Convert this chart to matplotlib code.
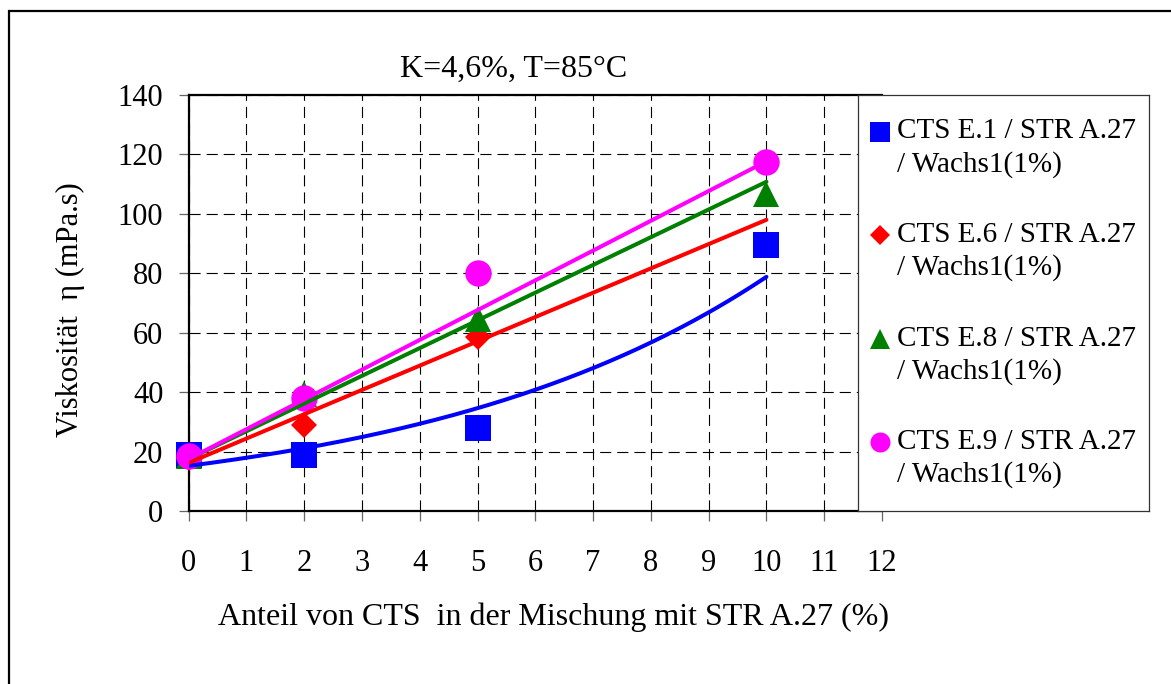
import numpy as np
import matplotlib
matplotlib.use("Agg")
import matplotlib.pyplot as plt
from matplotlib.patches import Rectangle

plt.rcParams['font.family'] = ['Liberation Serif', 'DejaVu Serif']

# ---------------- data ----------------
x_e1 = [0, 2, 5, 10]
y_e1 = [18.7, 18.8, 27.8, 89.5]
x_e6 = [0, 2, 5]
y_e6 = [18.0, 29.1, 58.6]
x_e8 = [0, 2, 5, 10]
y_e8 = [18.5, 39.4, 64.6, 106.7]
x_e9 = [0, 2, 5, 10]
y_e9 = [18.5, 38.1, 80.2, 117.6]

labels = ["CTS E.1 / STR A.27", "CTS E.6 / STR A.27",
          "CTS E.8 / STR A.27", "CTS E.9 / STR A.27"]
label_second = "/ Wachs1(1%)"
colors = ["#0000FF", "#FF0000", "#008000", "#FF00FF"]

# trendlines (values at x = 0 and x = 10)
trend_x = [0, 10]
trend_e1 = [15.2, 78.8]    # exponential trend
trend_e6 = [16.2, 98.0]    # linear trends
trend_e8 = [17.5, 110.8]
trend_e9 = [17.5, 117.7]

x_ticks = list(range(0, 13))
y_ticks = list(range(0, 141, 20))

title = "K=4,6%, T=85°C"
xlabel = "Anteil von CTS  in der Mischung mit STR A.27 (%)"
ylabel = "Viskosität  η (mPa.s)"

# ---------------- figure ----------------
W, H = 1171, 684
fig = plt.figure(figsize=(W / 100, H / 100), dpi=100)

def fx(px):
    return px / W

def fy(py):
    return 1 - py / H

ax_l, ax_r, ax_t, ax_b = 188.6, 882.0, 95.0, 511.0
ax = fig.add_axes([fx(ax_l), fy(ax_b), fx(ax_r - ax_l), (ax_b - ax_t) / H])
ax.set_xlim(0, 12)
ax.set_ylim(0, 140)
ax.set_xticks(x_ticks)
ax.set_yticks(y_ticks)
ax.set_axisbelow(True)
ax.grid(True, color='black', lw=0.8, ls=(0, (10, 5.4)))
for s in ['left', 'bottom', 'top']:
    ax.spines[s].set_linewidth(1.6)
    ax.spines[s].set_color('black')
ax.spines['right'].set_visible(False)
ax.tick_params(axis='both', direction='out', length=7.2, width=0.9,
               color='#666666', labelsize=22)
ax.tick_params(axis='x', pad=20)
ax.tick_params(axis='y', pad=11)

marker_specs = [('s', 19.4), ('D', 12.9), ('^', 19.4), ('o', 19.0)]
series = [(x_e1, y_e1), (x_e6, y_e6), (x_e8, y_e8), (x_e9, y_e9)]
for (xs, ys), (m, ms), c in zip(series, marker_specs, colors):
    ax.plot(xs, ys, ls='none', marker=m, ms=ms, color=c, mew=0, zorder=3,
            clip_on=False)

# trendlines
xc = np.linspace(trend_x[0], trend_x[1], 200)
yc = trend_e1[0] * (trend_e1[1] / trend_e1[0]) ** ((xc - trend_x[0]) / (trend_x[1] - trend_x[0]))
ax.plot(xc, yc, color=colors[0], lw=2.9, solid_capstyle='round', zorder=4)
for tr, c in zip([trend_e6, trend_e8, trend_e9], colors[1:]):
    ax.plot(trend_x, tr, color=c, lw=2.9, solid_capstyle='round', zorder=4)

# legend box (manual, to align handles with the first text line)
lg_l, lg_r = 858.0, 1149.0
lax = fig.add_axes([fx(lg_l), fy(ax_b), fx(lg_r - lg_l), (ax_b - ax_t) / H])
lax.set_xlim(0, 1)
lax.set_ylim(0, 1)
lax.set_xticks([])
lax.set_yticks([])
for s in lax.spines.values():
    s.set_linewidth(0.9)
    s.set_color('#333333')
lax.set_facecolor('white')

row_px = [131.5, 235.0, 338.5, 442.0]
line_gap = 33.0
leg_marker = [('s', 14.4), ('D', 10.2), ('^', 14.4), ('o', 14.4)]
hx = (880 - lg_l) / (lg_r - lg_l)
tx = (897 - lg_l) / (lg_r - lg_l)
for lab, rp, (m, ms), c in zip(labels, row_px, leg_marker, colors):
    yy = (ax_b - rp) / (ax_b - ax_t)
    yy2 = (ax_b - rp - line_gap) / (ax_b - ax_t)
    lax.plot([hx], [yy], ls='none', marker=m, ms=ms, color=c, mew=0)
    lax.text(tx, yy, lab, fontsize=21, ha='left', va='center')
    lax.text(tx, yy2, label_second, fontsize=21, ha='left', va='center')

# texts
fig.text(fx(514), fy(69), title, fontsize=23, ha='center', va='center')
fig.text(fx(554), fy(617), xlabel, fontsize=23, ha='center', va='center')
fig.text(fx(70), fy(310), ylabel, fontsize=22, ha='center', va='center',
         rotation=90)

# outer frame
frame = Rectangle((fx(9), -0.05), 1.2, fy(11) + 0.05, transform=fig.transFigure,
                  fill=False, lw=1.6, edgecolor='black', clip_on=False)
fig.add_artist(frame)

fig.savefig("out.png", dpi=100, facecolor='white')
